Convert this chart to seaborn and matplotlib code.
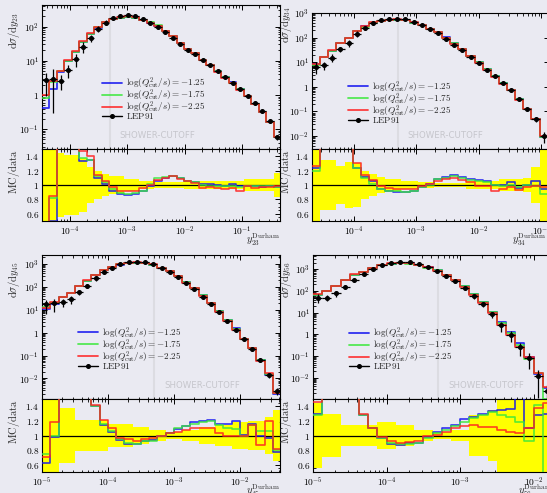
import numpy as np
import pandas as pd
import matplotlib
matplotlib.use("Agg")
import matplotlib.pyplot as plt
import seaborn as sns
from matplotlib.lines import Line2D
from matplotlib.ticker import LogLocator, FuncFormatter, MultipleLocator, NullFormatter

# ---------------- data ----------------
labels_mc = [r"$\log(Q^2_{\mathrm{cut}}/s) = -1.25$",
             r"$\log(Q^2_{\mathrm{cut}}/s) = -1.75$",
             r"$\log(Q^2_{\mathrm{cut}}/s) = -2.25$"]
label_data = r"$\mathrm{LEP91}$"
shower_cutoff = 5e-4

# y23
d23 = [2.7, 3.0, 2.6, 5.4, 11, 26, 46, 84, 131, 175, 205, 219, 205, 167, 131, 100,
       68, 46, 31, 21, 16, 10.7, 7.6, 5.0, 3.4, 2.3, 1.5, 0.93, 0.57, 0.33, 0.17, 0.059]
e23 = [0.65, 0.9, 0.45, 0.42, 0.42, 0.37, 0.25, 0.2, 0.15, 0.12, 0.12, 0.09, 0.09, 0.06, 0.06, 0.04,
       0.04, 0.04, 0.04, 0.05, 0.05, 0.05, 0.05, 0.06, 0.06, 0.06, 0.06, 0.08, 0.08, 0.08, 0.08, 0.16]
r23_blue = [0.15, 0.5, 1.85, 1.8, 1.6, 1.34, 1.35, 1.10, 1.01, 0.92, 0.88, 0.86, 0.88, 0.91, 0.98, 1.06,
            1.10, 1.13, 1.10, 1.06, 1.04, 1.01, 1.01, 1.0, 0.99, 1.01, 0.98, 0.99, 0.98, 0.97, 0.98, 0.97]
r23_green = [0.3, 0.82, 1.9, 1.85, 1.65, 1.37, 1.35, 1.13, 1.04, 0.95, 0.89, 0.88, 0.89, 0.92, 1.01, 1.10,
             1.11, 1.13, 1.10, 1.06, 1.04, 1.0, 0.99, 0.98, 0.98, 0.99, 0.97, 0.99, 0.98, 0.98, 0.98, 0.97]
r23_red = [0.37, 0.85, 1.95, 1.9, 1.7, 1.47, 1.40, 1.14, 1.06, 0.97, 0.92, 0.92, 0.92, 0.96, 1.0, 1.07,
           1.10, 1.12, 1.08, 1.05, 1.03, 0.96, 0.97, 0.96, 0.94, 0.96, 0.92, 0.98, 0.96, 0.97, 0.97, 0.98]

# y34
d34 = [6.5, 7.6, 15.5, 34, 63, 145, 255, 390, 500, 555, 590, 555, 435, 340, 225, 155,
       91, 52, 31, 16.6, 9.3, 5.0, 2.7, 1.4, 0.73, 0.32, 0.13, 0.048, 0.010]
e34 = [0.5, 0.35, 0.35, 0.27, 0.32, 0.3, 0.2, 0.15, 0.11, 0.09, 0.09, 0.06, 0.06, 0.035, 0.035, 0.03,
       0.03, 0.03, 0.03, 0.05, 0.05, 0.05, 0.05, 0.08, 0.08, 0.08, 0.1, 0.25, 0.5]
r34_blue = [1.24, 2.1, 1.9, 1.7, 1.55, 1.24, 1.11, 1.05, 0.95, 0.92, 0.90, 0.90, 0.92, 0.97, 1.01, 1.09,
            1.11, 1.14, 1.11, 1.09, 1.07, 1.06, 1.0, 1.0, 1.04, 0.96, 1.0, 1.05, 0.95]
r34_green = [1.20, 2.1, 1.9, 1.7, 1.55, 1.23, 1.10, 1.02, 0.95, 0.92, 0.91, 0.90, 0.91, 0.97, 1.0, 1.08,
             1.10, 1.13, 1.10, 1.07, 1.05, 1.04, 1.0, 0.98, 1.0, 0.97, 1.0, 0.98, 0.88]
r34_red = [1.26, 2.2, 2.0, 1.75, 1.6, 1.30, 1.14, 1.07, 0.98, 0.96, 0.95, 0.94, 0.95, 0.98, 1.01, 1.05,
           1.08, 1.10, 1.07, 1.04, 0.98, 0.99, 0.92, 0.95, 0.97, 0.93, 0.97, 0.99, 0.97]

# y45
d45 = [17, 19, 21, 29.5, 57, 112, 236, 460, 690, 1000, 1180, 1265, 1180, 1000, 645, 460,
       280, 142, 78, 37, 17, 7.6, 3.2, 1.3, 0.52, 0.19, 0.063, 0.014, 0.0028]
e45 = [0.6, 0.6, 0.38, 0.38, 0.21, 0.21, 0.21, 0.21, 0.16, 0.16, 0.16, 0.11, 0.11, 0.07, 0.07, 0.05,
       0.05, 0.08, 0.08, 0.12, 0.12, 0.15, 0.15, 0.18, 0.18, 0.2, 0.2, 0.25, 0.35]
r45_blue = [0.62, 0.98, 1.65, 1.85, 1.85, 1.65, 1.41, 1.15, 1.05, 0.94, 0.89, 0.89, 0.92, 0.94, 1.0, 1.04,
            1.09, 1.13, 1.19, 1.20, 1.21, 1.16, 1.16, 1.2, 1.01, 1.16, 1.0, 0.97, 0.77]
r45_green = [0.75, 0.99, 1.65, 1.85, 1.85, 1.65, 1.41, 1.16, 1.06, 0.95, 0.90, 0.89, 0.92, 0.93, 1.0, 1.03,
             1.10, 1.13, 1.16, 1.19, 1.20, 1.15, 1.10, 1.09, 1.0, 1.14, 1.06, 1.06, 0.80]
r45_red = [0.70, 1.19, 1.7, 1.9, 1.9, 1.7, 1.42, 1.21, 1.10, 0.97, 0.95, 0.93, 0.95, 0.97, 1.0, 1.03,
           1.05, 1.08, 1.10, 1.10, 1.10, 1.03, 1.0, 1.0, 1.0, 1.15, 0.87, 1.20, 0.82]

# y56
d56 = [49, 49, 77, 158, 320, 610, 1040, 1590, 2030, 2260, 2100, 1700, 1240, 870, 510, 290,
       142, 58, 24, 8.3, 2.6, 0.91, 0.26, 0.081, 0.012, 0.0025]
e56 = [0.45, 0.3, 0.3, 0.14, 0.14, 0.15, 0.15, 0.18, 0.18, 0.14, 0.14, 0.07, 0.07, 0.05, 0.05, 0.08,
       0.08, 0.28, 0.28, 0.35, 0.5, 0.5, 0.6, 0.7, 0.9, 0.9]
r56_blue = [1.30, 1.95, 2.15, 2.05, 1.75, 1.28, 1.10, 0.97, 0.89, 0.87, 0.90, 0.90, 0.98, 1.05, 1.10, 1.15,
            1.22, 1.26, 1.30, 1.33, 1.35, 1.36, 1.6, 1.10, 1.28, 1.3]
r56_green = [1.28, 1.95, 2.15, 2.05, 1.75, 1.28, 1.10, 0.96, 0.90, 0.88, 0.88, 0.90, 0.97, 1.03, 1.07, 1.13,
             1.19, 1.24, 1.28, 1.32, 1.28, 1.25, 1.19, 0.92, 1.42, 0.4]
r56_red = [1.46, 2.0, 2.2, 2.1, 1.8, 1.29, 1.10, 0.98, 0.92, 0.90, 0.91, 0.93, 1.0, 1.01, 1.05, 1.10,
           1.13, 1.14, 1.12, 1.11, 1.08, 1.05, 1.04, 1.10, 1.37, 1.45]

# ---------------- layout / style ----------------
W, H = 547, 493
BG = "#eaeaf2"
MC_COLORS = ["#1010f0", "#3ae83a", "#ff2020"]

sns.set_theme(style="white")
plt.rcParams.update({
    "font.family": "serif",
    "font.serif": ["DejaVu Serif"],
    "mathtext.fontset": "cm",
    "figure.facecolor": BG,
    "axes.facecolor": BG,
    "axes.edgecolor": "black",
    "axes.linewidth": 0.8,
    "xtick.direction": "in", "ytick.direction": "in",
    "xtick.top": True, "xtick.bottom": True,
    "ytick.left": True, "ytick.right": True,
    "xtick.major.size": 3.4, "ytick.major.size": 3.4,
    "xtick.minor.size": 1.8, "ytick.minor.size": 1.8,
    "xtick.major.width": 0.7, "ytick.major.width": 0.7,
    "xtick.minor.width": 0.6, "ytick.minor.width": 0.6,
    "xtick.color": "black", "ytick.color": "black",
    "xtick.labelsize": 6.8, "ytick.labelsize": 6.8,
    "xtick.major.pad": 2.5, "ytick.major.pad": 2.0,
})


def rect(x0, y0, x1, y1):
    return [x0 / W, 1 - y1 / H, (x1 - x0) / W, (y1 - y0) / H]


def logfmt(v, pos):
    e = int(round(np.log10(v)))
    return "$1$" if e == 0 else r"$10^{%d}$" % e


panels = [
    dict(key="23", start=-4.48, bw=0.13, xlim=(-4.48, -0.34), ylim=(-1.58, 2.63),
         data=d23, err=e23, ratios=[r23_blue, r23_green, r23_red],
         main=(42, 5, 280, 149), rat=(42, 149, 280, 221), leg=(101.5, 75.5),
         ylab=(13.5, 12), rlab=(13.5, 150), xlab_right=280),
    dict(key="34", start=-4.67, bw=0.13, xlim=(-4.67, -0.88), ylim=(-2.53, 3.0005),
         data=d34, err=e34, ratios=[r34_blue, r34_green, r34_red],
         main=(312, 13, 549, 149), rat=(312, 149, 549, 221), leg=(347.5, 79),
         ylab=(286, 6), rlab=(286, 150), xlab_right=546),
    dict(key="45", start=-5.0, bw=0.125, xlim=(-5.0005, -1.39), ylim=(-2.9, 3.39),
         data=d45, err=e45, ratios=[r45_blue, r45_green, r45_red],
         main=(42, 255, 280, 399), rat=(42, 399, 280, 472), leg=(77.5, 325),
         ylab=(13.5, 261), rlab=(13.5, 400), xlab_right=280),
    dict(key="56", start=-5.0, bw=0.125, xlim=(-5.0005, -1.75), ylim=(-2.985, 3.66),
         data=d56, err=e56, ratios=[r56_blue, r56_green, r56_red],
         main=(313, 255, 552, 399), rat=(313, 399, 552, 472), leg=(349, 325.5),
         ylab=(286, 261), rlab=(286, 400), xlab_right=552),
]

fig = plt.figure(figsize=(W / 100, H / 100), dpi=100)


def step_frame(edges, series):
    rows = []
    for name, vals in series:
        vals = list(vals)
        ys = vals + [vals[-1]]
        for xe, ye in zip(edges, ys):
            rows.append((name, xe, ye))
    return pd.DataFrame(rows, columns=["series", "x", "y"])


for p in panels:
    n = len(p["data"])
    edges = 10 ** (p["start"] + p["bw"] * np.arange(n + 1))
    centers = np.sqrt(edges[:-1] * edges[1:])
    data = np.array(p["data"], float)
    err = np.array(p["err"], float)
    ratios = [np.array(r, float) for r in p["ratios"]]
    mc = [data * r for r in ratios]

    axm = fig.add_axes(rect(*p["main"]))
    axr = fig.add_axes(rect(*p["rat"]), sharex=axm)
    for ax in (axm, axr):
        ax.set_xscale("log")
        ax.set_facecolor(BG)
    axm.set_yscale("log")

    # ---- main plot ----
    axm.axvline(shower_cutoff, color="#dcdce2", lw=1.5, zorder=0.5)
    dfm = step_frame(edges, list(zip(labels_mc, mc)))
    sns.lineplot(data=dfm, x="x", y="y", hue="series", hue_order=labels_mc,
                 palette=MC_COLORS, drawstyle="steps-post", estimator=None, sort=False,
                 legend=False, ax=axm, lw=1.3, alpha=0.85, zorder=3)
    lo = np.minimum(err * data, data * 0.999)
    hi = err * data
    axm.errorbar(centers, data, yerr=[lo, hi], xerr=[centers - edges[:-1], edges[1:] - centers],
                 fmt="o", color="black", ms=2.6, elinewidth=0.9, capsize=0, zorder=5)

    axm.set_xlim(10 ** p["xlim"][0], 10 ** p["xlim"][1])
    axm.set_ylim(10 ** p["ylim"][0], 10 ** p["ylim"][1])
    axm.yaxis.set_major_locator(LogLocator(base=10, numticks=20))
    axm.yaxis.set_minor_locator(LogLocator(base=10, subs=np.arange(2, 10), numticks=100))
    axm.yaxis.set_major_formatter(FuncFormatter(logfmt))
    axm.yaxis.set_minor_formatter(NullFormatter())
    axm.tick_params(axis="x", which="both", labelbottom=False)
    axm.set_xlabel("")
    axm.set_ylabel("")
    fig.text(p["ylab"][0] / W, 1 - p["ylab"][1] / H,
             r"$\mathrm{d}\sigma/\mathrm{d}y_{%s}$" % p["key"], rotation=90,
             ha="center", va="top", fontsize=7.5)

    axm.annotate("SHOWER-CUTOFF", xy=(shower_cutoff, 0), xycoords=axm.get_xaxis_transform(),
                 xytext=(10 * 0.72, 9.5 * 0.72), textcoords="offset points", ha="left", va="bottom",
                 fontsize=6.2, color="#c6c6cc", family="DejaVu Sans", zorder=2)

    handles = [Line2D([], [], color=c, lw=1.3, alpha=0.85) for c in MC_COLORS]
    handles.append(Line2D([], [], color="black", lw=1.0, marker="o", ms=2.6))
    axm.legend(handles, labels_mc + [label_data], loc="upper left",
               bbox_to_anchor=(p["leg"][0] / W, 1 - p["leg"][1] / H), bbox_transform=fig.transFigure,
               frameon=False, fontsize=6.6, borderpad=0, borderaxespad=0, handlelength=2.2,
               handletextpad=0.45, labelspacing=-0.4)

    # ---- ratio plot ----
    axr.stairs(1 + err, edges, baseline=1 - err, fill=True, color="#ffff00", lw=0, zorder=1)
    axr.axhline(1.0, color="black", lw=0.9, zorder=2)
    dfr = step_frame(edges, list(zip(labels_mc, ratios)))
    sns.lineplot(data=dfr, x="x", y="y", hue="series", hue_order=labels_mc,
                 palette=MC_COLORS, drawstyle="steps-post", estimator=None, sort=False,
                 legend=False, ax=axr, lw=1.2, alpha=0.85, zorder=3)
    axr.set_ylim(0.5, 1.5)
    axr.set_xlim(10 ** p["xlim"][0], 10 ** p["xlim"][1])
    axr.yaxis.set_major_locator(MultipleLocator(0.2))
    axr.yaxis.set_minor_locator(MultipleLocator(0.05))
    axr.yaxis.set_major_formatter(FuncFormatter(lambda v, pos: "$%g$" % round(v, 3)))
    axr.xaxis.set_major_locator(LogLocator(base=10, numticks=20))
    axr.xaxis.set_minor_locator(LogLocator(base=10, subs=np.arange(2, 10), numticks=100))
    axr.xaxis.set_major_formatter(FuncFormatter(logfmt))
    axr.xaxis.set_minor_formatter(NullFormatter())
    axr.set_ylabel("")
    fig.text(p["rlab"][0] / W, 1 - p["rlab"][1] / H, r"$\mathrm{MC/data}$", rotation=90,
             ha="center", va="top", fontsize=7.5)
    rx0, ry0, rx1, ry1 = p["rat"]
    axr.set_xlabel(r"$y_{%s}^{\mathrm{Durham}}$" % p["key"], fontsize=7.5, ha="right")
    axr.xaxis.set_label_coords((p["xlab_right"] - rx0) / (rx1 - rx0), -0.15)
    for ax in (axm, axr):
        for s in ax.spines.values():
            s.set_color("black")
            s.set_linewidth(0.8)

fig.savefig("out.png", dpi=100, facecolor=BG)
